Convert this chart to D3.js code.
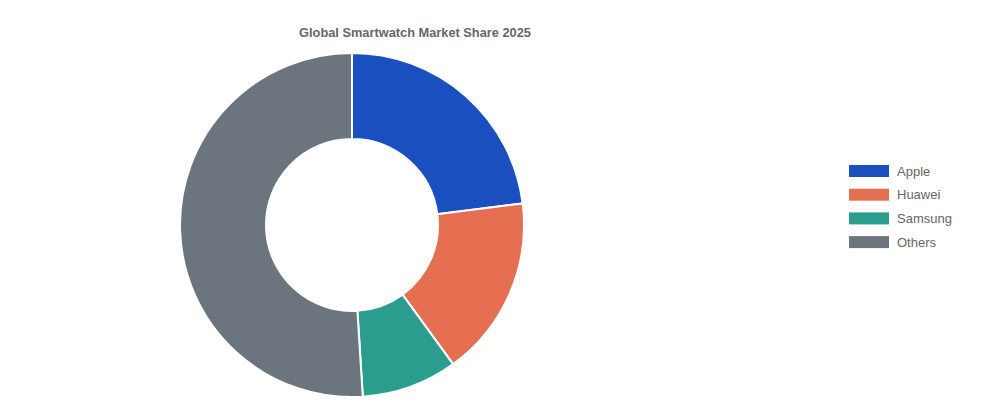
<!DOCTYPE html>
<html>
<head>
<meta charset="utf-8">
<script src="https://cdn.jsdelivr.net/npm/d3@7"></script>
<style>
  body { margin: 0; background: #fff; }
  svg { display: block; font-family: "Liberation Sans", Arial, Helvetica, sans-serif; }
</style>
</head>
<body>
<svg id="chart" width="1000" height="420"></svg>
<script>
// data
const brands = ["Apple", "Huawei", "Samsung", "Others"];
const shares = [23, 17, 9, 51];
const colors = ["#1a4fc0", "#e76f51", "#2a9d8f", "#6c757d"];

const svg = d3.select("#chart");

// title
svg.append("text")
  .attr("x", 415)
  .attr("y", 37)
  .attr("text-anchor", "middle")
  .attr("font-size", 12.8)
  .attr("font-weight", "bold")
  .attr("fill", "#666")
  .text("Global Smartwatch Market Share 2025");

// donut
const cx = 352, cy = 225, outerR = 172, innerR = 86;
const pie = d3.pie().sort(null).value(d => d)(shares);
const arc = d3.arc().innerRadius(innerR).outerRadius(outerR);

const g = svg.append("g").attr("transform", `translate(${cx},${cy})`);
g.selectAll("path")
  .data(pie)
  .join("path")
  .attr("d", arc)
  .attr("fill", (d, i) => colors[i])
  .attr("stroke", "#fff")
  .attr("stroke-width", 2);

// legend
const legend = svg.append("g").attr("transform", "translate(849,165)");
const row = legend.selectAll("g")
  .data(brands)
  .join("g")
  .attr("transform", (d, i) => `translate(0,${i * 23.7})`);
row.append("rect")
  .attr("width", 40)
  .attr("height", 12)
  .attr("fill", (d, i) => colors[i]);
row.append("text")
  .attr("x", 48)
  .attr("y", 10.5)
  .attr("font-size", 13)
  .attr("fill", "#666")
  .text(d => d);
</script>
</body>
</html>
